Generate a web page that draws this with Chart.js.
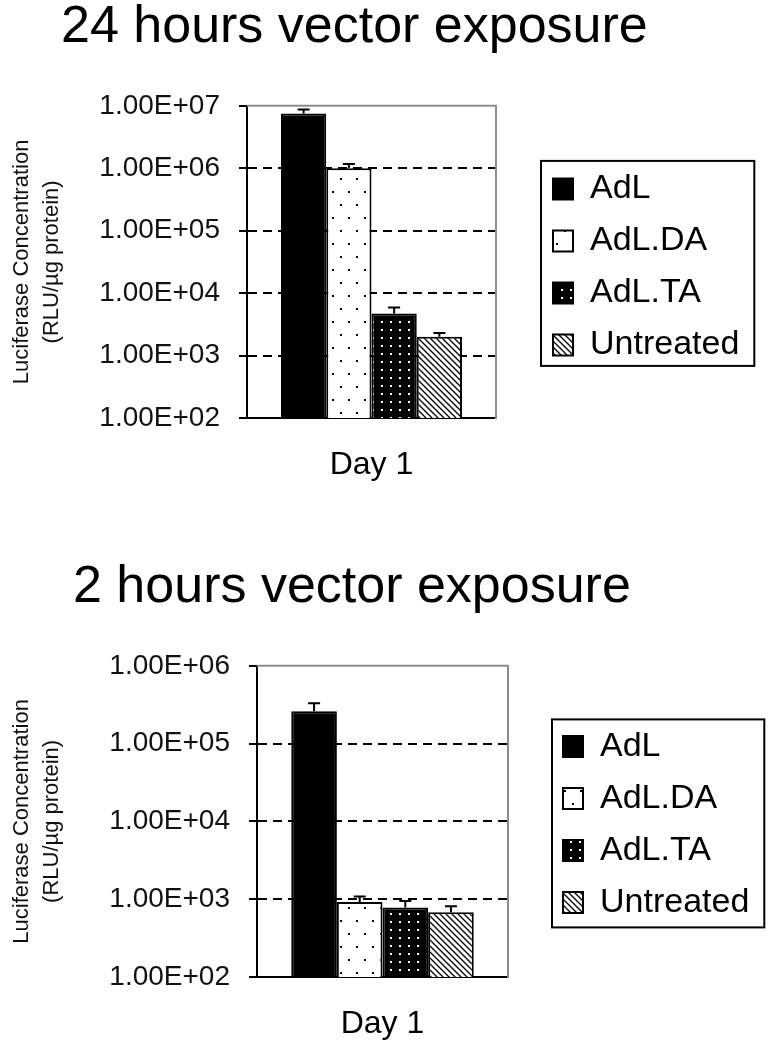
<!DOCTYPE html>
<html>
<head>
<meta charset="utf-8">
<script src="https://cdn.jsdelivr.net/npm/chart.js@4.4.1/dist/chart.umd.min.js"></script>
<style>
body { margin: 0; background: #fff; width: 775px; height: 1050px; position: relative; overflow: hidden; }
.title { position: absolute; font-family: "Liberation Sans", Arial, sans-serif; font-size: 52px; line-height: 52px; color: #000; white-space: nowrap; }
canvas { position: absolute; left: 0; }
</style>
</head>
<body>
<div class="title" style="left:61px;top:-2px;">24 hours vector exposure</div>
<canvas id="chart24" width="775" height="440" style="top:70px;"></canvas>
<div class="title" style="left:73px;top:558px;">2 hours vector exposure</div>
<canvas id="chart2" width="775" height="420" style="top:630px;"></canvas>
<script>
var categories = ['Day 1'];
var seriesNames = ['AdL', 'AdL.DA', 'AdL.TA', 'Untreated'];

// 24 hours exposure
var values24h = [7.5e6, 1.0e6, 4.7e3, 2.0e3];
var errTop24h = [8.7e6, 1.17e6, 5.9e3, 2.3e3];
var yTicks24h = [1e2, 1e3, 1e4, 1e5, 1e6, 1e7];
var yTickLabels24h = ['1.00E+02', '1.00E+03', '1.00E+04', '1.00E+05', '1.00E+06', '1.00E+07'];

// 2 hours exposure
var values2h = [2.6e5, 9.2e2, 7.8e2, 6.8e2];
var errTop2h = [3.3e5, 1.08e3, 9.5e2, 8.1e2];
var yTicks2h = [1e2, 1e3, 1e4, 1e5, 1e6];
var yTickLabels2h = ['1.00E+02', '1.00E+03', '1.00E+04', '1.00E+05', '1.00E+06'];

var yTitle = ['Luciferase Concentration', '(RLU/\u00b5g protein)'];
var fontFam = '"Liberation Sans", Arial, sans-serif';

function makePattern(kind) {
    var c = document.createElement('canvas');
    var g;
    if (kind == 'solid') {
        return '#000';
    }
    if (kind == 'dots') {
        c.width = 16; c.height = 26;
        g = c.getContext('2d');
        g.fillStyle = '#fff'; g.fillRect(0, 0, 16, 26);
        g.fillStyle = '#000';
        g.fillRect(4, 4, 2, 2);
        g.fillRect(12, 17, 2, 2);
    } else if (kind == 'whitedots') {
        c.width = 9; c.height = 8;
        g = c.getContext('2d');
        g.fillStyle = '#000'; g.fillRect(0, 0, 9, 8);
        g.fillStyle = '#fff';
        g.fillRect(3, 3, 2, 2);
    } else {
        c.width = 6; c.height = 6;
        g = c.getContext('2d');
        g.fillStyle = '#fff'; g.fillRect(0, 0, 6, 6);
        g.strokeStyle = '#000'; g.lineWidth = 1.3;
        g.beginPath();
        for (var k = -1; k <= 1; k++) {
            g.moveTo(k * 6 - 1, -1);
            g.lineTo(k * 6 + 7, 7);
        }
        g.stroke();
    }
    return g.createPattern(c, 'repeat');
}
var fills = [makePattern('solid'), makePattern('dots'), makePattern('whitedots'), makePattern('hatch')];

// frame top line, error bars and the box round the legend
function extrasPlugin(errTop, box) {
    return {
        id: 'extras',
        afterDatasetsDraw: function (chart) {
            var ctx = chart.ctx;
            var ca = chart.chartArea;
            ctx.save();
            ctx.strokeStyle = '#8c8c8c';
            ctx.lineWidth = 2;
            ctx.beginPath();
            ctx.moveTo(ca.left, ca.top);
            ctx.lineTo(ca.right, ca.top);
            ctx.stroke();
            ctx.strokeStyle = '#000';
            for (var i = 0; i < chart.data.datasets.length; i++) {
                var bar = chart.getDatasetMeta(i).data[0];
                var yErr = chart.scales.y.getPixelForValue(errTop[i]);
                ctx.beginPath();
                ctx.moveTo(bar.x, bar.y);
                ctx.lineTo(bar.x, yErr);
                ctx.moveTo(bar.x - 6, yErr);
                ctx.lineTo(bar.x + 6, yErr);
                ctx.stroke();
            }
            ctx.restore();
        },
        afterDraw: function (chart) {
            var lg = chart.legend;
            var hb = lg.legendHitBoxes;
            if (!hb || !hb.length) return;
            var last = hb[hb.length - 1];
            var w = 0;
            for (var i = 0; i < hb.length; i++) w = Math.max(w, hb[i].width);
            var ctx = chart.ctx;
            ctx.save();
            ctx.strokeStyle = '#000';
            ctx.lineWidth = 2;
            ctx.strokeRect(hb[0].left - box[0], hb[0].top - box[1],
                w + box[0] + box[2], last.top + last.height - hb[0].top + box[1] + box[3]);
            ctx.restore();
        }
    };
}

function makeChart(id, values, errTop, yTicks, yTickLabels, sizes) {
    var yMax = yTicks[yTicks.length - 1];
    var datasets = [];
    for (var i = 0; i < seriesNames.length; i++) {
        datasets.push({
            label: seriesNames[i],
            data: [values[i]],
            backgroundColor: fills[i],
            borderColor: '#000',
            borderWidth: 2,
            barPercentage: 1.0,
            categoryPercentage: 0.727
        });
    }
    return new Chart(document.getElementById(id).getContext('2d'), {
        type: 'bar',
        data: { labels: categories, datasets: datasets },
        options: {
            responsive: false,
            animation: false,
            devicePixelRatio: 1,
            layout: { padding: { top: sizes.padTop, right: sizes.padRight, left: 0, bottom: 0 } },
            plugins: {
                tooltip: { enabled: false },
                title: { display: false },
                legend: {
                    position: 'right',
                    align: 'center',
                    fullSize: false,
                    maxWidth: 214,
                    // empty title only nudges the items down a little
                    title: { display: true, text: '', padding: 0, font: { size: sizes.legendShift, lineHeight: 1 } },
                    labels: {
                        boxWidth: 20,
                        boxHeight: 21,
                        padding: 18,
                        color: '#000',
                        font: { family: fontFam, size: 34 }
                    }
                }
            },
            scales: {
                x: {
                    grid: { display: false, drawTicks: false },
                    border: { color: '#000', width: 2 },
                    ticks: { color: '#000', padding: 28, font: { family: fontFam, size: 32 } },
                    afterFit: function (s) { s.height = sizes.xHeight; }
                },
                y: {
                    type: 'logarithmic',
                    position: 'left',
                    min: yTicks[0],
                    max: yMax,
                    afterBuildTicks: function (s) {
                        s.ticks = yTicks.map(function (v) { return { value: v }; });
                    },
                    ticks: {
                        color: '#111',
                        padding: 19,
                        font: { family: fontFam, size: 28 },
                        callback: function (v, i) { return yTickLabels[i]; }
                    },
                    grid: {
                        color: function (c) {
                            var v = c.tick ? c.tick.value : null;
                            return (v == yTicks[0] || v == yMax) ? 'rgba(0,0,0,0)' : '#000';
                        },
                        lineWidth: 2,
                        tickLength: 8,
                        tickColor: '#000',
                        tickWidth: 2,
                        tickBorderDash: []
                    },
                    border: { color: '#000', width: 2, dash: [9, 6] },
                    title: {
                        display: true,
                        text: yTitle,
                        color: '#111',
                        font: { family: fontFam, size: 22, lineHeight: 1.36 },
                        padding: { top: 7, bottom: 0 }
                    },
                    afterFit: function (s) { s.width = sizes.yWidth; }
                },
                yr: {
                    type: 'linear',
                    position: 'right',
                    grid: { display: false, drawTicks: false },
                    ticks: { display: false },
                    border: { color: '#8c8c8c', width: 2 },
                    afterFit: function (s) { s.width = sizes.spacer; }
                }
            }
        },
        plugins: [extrasPlugin(errTop, sizes.box)]
    });
}

makeChart('chart24', values24h, errTop24h, yTicks24h, yTickLabels24h,
    { padTop: 26, padRight: 26, xHeight: 92, yWidth: 247, spacer: 39, legendShift: 10, box: [12, 11, 15, 4] });
makeChart('chart2', values2h, errTop2h, yTicks2h, yTickLabels2h,
    { padTop: 25, padRight: 16, xHeight: 73, yWidth: 257, spacer: 37, legendShift: 6, box: [11, 10, 15, 8] });
</script>
</body>
</html>
